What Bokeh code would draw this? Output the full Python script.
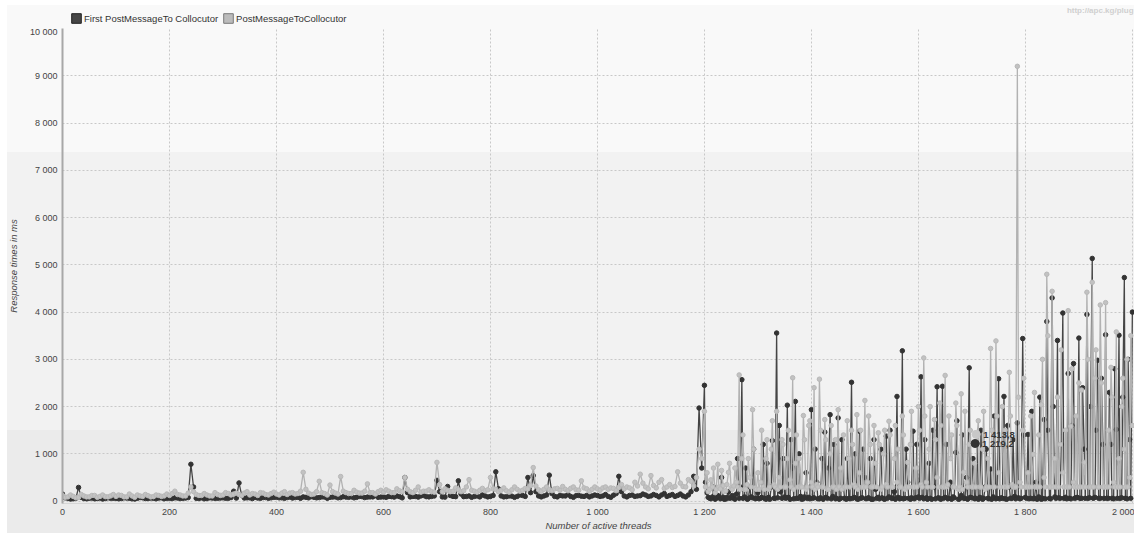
from bokeh.plotting import figure
from bokeh.layouts import column
from bokeh.models import (Range1d, Legend, LegendItem, CustomJSTickFormatter,
                          SingleIntervalTicker, Label)
from bokeh.core.properties import value
from bokeh.embed import file_html
from bokeh.resources import INLINE

# ---------------- data ----------------
threads = [
    0, 10, 20, 30, 40, 50, 60, 70, 80, 90,
    100, 110, 120, 130, 140, 150, 160, 170, 180, 190,
    200, 210, 220, 230, 240, 250, 260, 270, 280, 290,
    300, 310, 320, 330, 340, 350, 360, 370, 380, 390,
    400, 410, 420, 430, 440, 450, 460, 470, 480, 490,
    500, 510, 520, 530, 540, 550, 560, 570, 580, 590,
    600, 610, 620, 630, 640, 650, 660, 670, 680, 690,
    700, 710, 720, 730, 740, 750, 760, 770, 780, 790,
    800, 810, 820, 830, 840, 850, 860, 870, 880, 890,
    900, 910, 920, 930, 940, 950, 960, 970, 980, 990,
    1000, 1010, 1020, 1030, 1040, 1050, 1060, 1070, 1080, 1090,
    1100, 1110, 1120, 1130, 1140, 1150, 1160, 1170, 1180, 1190,
    1200,
    1205, 1210, 1215, 1220, 1225, 1230, 1235, 1240, 1245, 1250,
    1255, 1260, 1265, 1270, 1275, 1280, 1285, 1290, 1295, 1300,
    1305, 1310, 1315, 1320, 1325, 1330, 1335, 1340, 1345, 1350,
    1355, 1360, 1365, 1370, 1375, 1380, 1385, 1390, 1395, 1400,
    1405, 1410, 1415, 1420, 1425, 1430, 1435, 1440, 1445, 1450,
    1455, 1460, 1465, 1470, 1475, 1480, 1485, 1490, 1495, 1500,
    1505, 1510, 1515, 1520, 1525, 1530, 1535, 1540, 1545, 1550,
    1555, 1560, 1565, 1570, 1575, 1580, 1585, 1590, 1595, 1600,
    1605, 1610, 1615, 1620, 1625, 1630, 1635, 1640, 1645, 1650,
    1655, 1660, 1665, 1670, 1675, 1680, 1685, 1690, 1695, 1700,
    1705, 1710, 1715, 1720, 1725, 1730, 1735, 1740, 1745, 1750,
    1755, 1760, 1765, 1770, 1775, 1780, 1785, 1790, 1795, 1800,
    1805, 1810, 1815, 1820, 1825, 1830, 1835, 1840, 1845, 1850,
    1855, 1860, 1865, 1870, 1875, 1880, 1885, 1890, 1895, 1900,
    1905, 1910, 1915, 1920, 1925, 1930, 1935, 1940, 1945, 1950,
    1955, 1960, 1965, 1970, 1975, 1980, 1985, 1990, 1995, 2000,
]

first_post_ms = [
    150, 60, 50, 290, 55, 60, 50, 65, 55, 60,
    60, 55, 65, 50, 60, 70, 55, 60, 65, 50,
    60, 70, 55, 65, 780, 60, 70, 55, 65, 60,
    70, 60, 210, 385, 65, 70, 80, 60, 75, 70,
    80, 70, 75, 65, 80, 90, 70, 80, 75, 85,
    80, 90, 75, 85, 90, 80, 95, 85, 90, 80,
    90, 100, 85, 95, 500, 90, 100, 110, 95, 100,
    440, 90, 310, 100, 430, 95, 110, 100, 90, 110,
    100, 620, 110, 95, 105, 100, 120, 500, 540, 110,
    110, 550, 100, 120, 110, 100, 115, 105, 120, 110,
    120, 110, 100, 125, 525, 110, 120, 100, 115, 130,
    110, 120, 130, 100, 140, 120, 110, 130, 525, 1970,
    2450,
    180, 60, 90, 40, 120, 50, 80, 45, 200, 70,
    60, 150, 60, 2570, 90, 40, 300, 70, 50, 180,
    60, 1200, 40, 80, 300, 60, 3557, 1600, 60, 90,
    2030, 40, 700, 2110, 60, 100, 50, 600, 80, 1935,
    70, 400, 50, 900, 1460, 60, 1830, 100, 50, 1760,
    60, 300, 40, 60, 2515, 80, 50, 1480, 70, 500,
    60, 900, 40, 250, 80, 1100, 50, 1375, 90, 60,
    200, 2215, 50, 3180, 60, 400, 40, 1480, 70, 90,
    2630, 50, 70, 800, 40, 300, 2420, 60, 2430, 80,
    50, 400, 90, 1030, 40, 120, 60, 500, 2820, 70,
    50, 1219, 80, 40, 300, 60, 680, 90, 50, 2590,
    70, 2215, 40, 300, 60, 100, 1655, 50, 3440, 80,
    1410, 60, 50, 400, 90, 40, 1725, 3800, 60, 4300,
    90, 3400, 60, 3980, 80, 2700, 50, 2910, 70, 3450,
    60, 1100, 3950, 70, 5135, 80, 2980, 60, 1200, 3520,
    60, 1200, 50, 1515, 3510, 70, 4730, 50, 1300, 4000,
]

post_ms = [
    120, 90, 100, 80, 110, 90, 120, 100, 95, 110,
    100, 120, 90, 110, 130, 100, 115, 95, 120, 110,
    120, 210, 130, 110, 300, 140, 120, 130, 110, 140,
    130, 160, 150, 140, 170, 130, 150, 180, 140, 160,
    150, 170, 140, 180, 160, 610, 170, 150, 420, 160,
    340, 170, 520, 180, 160, 190, 170, 365, 180, 200,
    190, 210, 180, 220, 500, 200, 230, 190, 210, 200,
    820, 200, 230, 210, 240, 220, 455, 210, 230, 220,
    500, 250, 230, 220, 240, 250, 230, 260, 710, 240,
    250, 240, 260, 230, 250, 270, 240, 430, 260, 250,
    260, 280, 250, 270, 290, 260, 280, 400, 570, 300,
    540, 280, 455, 300, 290, 620, 310, 455, 320, 1100,
    1900,
    600, 250, 300, 180, 780, 260, 330, 220, 610, 280,
    320, 400, 2670, 900, 250, 350, 500, 1935, 280, 600,
    400, 300, 900, 250, 1100, 350, 1900, 500, 1300, 300,
    900, 450, 2610, 800, 300, 300, 1810, 250, 1600, 400,
    2400, 350, 2580, 300, 1725, 250, 1000, 300, 1300, 1935,
    700, 1400, 300, 900, 1500, 350, 1830, 600, 300, 2130,
    400, 1200, 300, 800, 1445, 250, 1000, 350, 1690, 300,
    900, 400, 300, 1800, 250, 820, 1200, 300, 700, 2000,
    350, 3030, 400, 1100, 300, 1725, 500, 2075, 300, 2660,
    350, 900, 300, 2075, 250, 2270, 610, 400, 1200, 300,
    800, 1414, 300, 1100, 250, 900, 3230, 300, 3390, 600,
    1200, 300, 300, 2725, 350, 300, 9200, 400, 1500, 300,
    600, 1800, 990, 300, 1400, 2040, 500, 4800, 300, 4440,
    900, 2200, 1200, 600, 1500, 4030, 1585, 400, 1800, 2500,
    2350, 820, 4420, 300, 4630, 2600, 300, 4150, 300, 4200,
    1500, 2830, 400, 3580, 900, 2000, 1100, 3000, 500, 1600,
]

# second, in-between set of samples (the picture is much denser than one point per 5-10 threads)
threads_b = [
    5, 15, 25, 35, 45, 55, 65, 75, 85, 95,
    105, 115, 125, 135, 145, 155, 165, 175, 185, 195,
    205, 215, 225, 235, 245, 255, 265, 275, 285, 295,
    305, 315, 325, 335, 345, 355, 365, 375, 385, 395,
    405, 415, 425, 435, 445, 455, 465, 475, 485, 495,
    505, 515, 525, 535, 545, 555, 565, 575, 585, 595,
    605, 615, 625, 635, 645, 655, 665, 675, 685, 695,
    705, 715, 725, 735, 745, 755, 765, 775, 785, 795,
    805, 815, 825, 835, 845, 855, 865, 875, 885, 895,
    905, 915, 925, 935, 945, 955, 965, 975, 985, 995,
    1005, 1015, 1025, 1035, 1045, 1055, 1065, 1075, 1085, 1095,
    1105, 1115, 1125, 1135, 1145, 1155, 1165, 1175, 1185, 1195,
    1202, 1207, 1212, 1217, 1222, 1227, 1232, 1237, 1242, 1247,
    1252, 1257, 1262, 1267, 1272, 1277, 1282, 1287, 1292, 1297,
    1302, 1307, 1312, 1317, 1322, 1327, 1332, 1337, 1342, 1347,
    1352, 1357, 1362, 1367, 1372, 1377, 1382, 1387, 1392, 1397,
    1402, 1407, 1412, 1417, 1422, 1427, 1432, 1437, 1442, 1447,
    1452, 1457, 1462, 1467, 1472, 1477, 1482, 1487, 1492, 1497,
    1502, 1507, 1512, 1517, 1522, 1527, 1532, 1537, 1542, 1547,
    1552, 1557, 1562, 1567, 1572, 1577, 1582, 1587, 1592, 1597,
    1602, 1607, 1612, 1617, 1622, 1627, 1632, 1637, 1642, 1647,
    1652, 1657, 1662, 1667, 1672, 1677, 1682, 1687, 1692, 1697,
    1702, 1707, 1712, 1717, 1722, 1727, 1732, 1737, 1742, 1747,
    1752, 1757, 1762, 1767, 1772, 1777, 1782, 1787, 1792, 1797,
    1802, 1807, 1812, 1817, 1822, 1827, 1832, 1837, 1842, 1847,
    1852, 1857, 1862, 1867, 1872, 1877, 1882, 1887, 1892, 1897,
    1902, 1907, 1912, 1917, 1922, 1927, 1932, 1937, 1942, 1947,
    1952, 1957, 1962, 1967, 1972, 1977, 1982, 1987, 1992, 1997,
]

first_post_ms_b = [
    70, 45, 60, 80, 50, 65, 55, 45, 70, 60,
    50, 70, 60, 45, 75, 55, 65, 50, 70, 60,
    55, 65, 60, 75, 300, 55, 50, 70, 60, 65,
    60, 75, 65, 120, 70, 55, 65, 75, 60, 80,
    70, 60, 85, 75, 60, 80, 95, 70, 90, 60,
    85, 70, 95, 80, 70, 100, 75, 90, 120, 85,
    80, 95, 110, 70, 180, 100, 85, 120, 90, 110,
    200, 85, 120, 95, 150, 100, 80, 110, 130, 90,
    120, 260, 90, 110, 80, 130, 100, 180, 200, 90,
    130, 160, 90, 110, 140, 80, 120, 100, 90, 130,
    100, 140, 80, 160, 200, 90, 130, 110, 150, 100,
    140, 90, 160, 120, 100, 150, 90, 200, 250, 700,
    400, 80, 50, 300, 60, 90, 500, 40, 80, 60,
    120, 40, 900, 300, 60, 700, 50, 90, 1100, 60,
    50, 80, 60, 800, 40, 1280, 60, 70, 200, 900,
    60, 80, 1300, 50, 60, 1000, 40, 90, 60, 50,
    60, 1100, 50, 70, 40, 80, 700, 50, 1200, 60,
    40, 1300, 60, 900, 50, 60, 1000, 40, 60, 1100,
    50, 70, 40, 1300, 60, 50, 70, 40, 60, 1500,
    60, 40, 80, 60, 50, 1100, 60, 70, 50, 1200,
    60, 80, 1300, 40, 60, 1500, 50, 70, 40, 60,
    1200, 60, 40, 70, 1700, 50, 1400, 60, 40, 80,
    900, 60, 40, 1500, 60, 1100, 50, 40, 1800, 60,
    50, 60, 50, 1600, 60, 1300, 50, 70, 60, 1400,
    60, 50, 1900, 60, 40, 2200, 60, 50, 1500, 50,
    2000, 60, 70, 1200, 60, 50, 60, 1600, 60, 80,
    60, 2400, 60, 60, 2000, 60, 1500, 60, 2600, 60,
    60, 2300, 60, 2800, 60, 60, 2200, 60, 3000, 60,
]

post_ms_b = [
    80, 130, 70, 140, 90, 120, 80, 130, 90, 140,
    130, 90, 150, 80, 110, 140, 90, 130, 100, 150,
    160, 140, 110, 170, 200, 120, 160, 110, 180, 120,
    180, 130, 170, 120, 200, 160, 120, 170, 130, 190,
    130, 200, 170, 150, 210, 250, 140, 200, 180, 130,
    200, 150, 210, 160, 230, 170, 210, 180, 150, 230,
    240, 180, 260, 200, 250, 180, 300, 210, 240, 190,
    350, 260, 200, 280, 200, 300, 230, 190, 270, 240,
    260, 200, 280, 190, 300, 210, 270, 330, 320, 210,
    300, 220, 270, 310, 220, 300, 230, 280, 210, 300,
    230, 300, 280, 220, 350, 300, 240, 320, 380, 260,
    330, 400, 270, 350, 310, 380, 300, 420, 500, 900,
    300, 200, 450, 700, 250, 300, 650, 200, 350, 800,
    250, 700, 300, 250, 1400, 250, 900, 300, 1100, 250,
    250, 1500, 250, 1300, 300, 1700, 300, 250, 300, 1200,
    300, 1500, 300, 250, 1400, 900, 300, 1300, 300, 1700,
    300, 250, 300, 1500, 300, 1300, 250, 1600, 300, 250,
    300, 250, 300, 1700, 300, 1200, 300, 250, 1500, 300,
    300, 1800, 300, 1600, 300, 1200, 300, 1500, 300, 1400,
    300, 1600, 1100, 300, 1400, 300, 300, 1900, 300, 300,
    1500, 300, 1800, 300, 2000, 300, 1300, 300, 1600, 300,
    300, 1800, 1400, 300, 1600, 300, 250, 1900, 300, 1500,
    300, 300, 1700, 300, 1900, 300, 300, 1500, 300, 1800,
    300, 2000, 1500, 300, 1800, 300, 300, 2200, 300, 2600,
    300, 300, 300, 2300, 300, 300, 3000, 300, 3500, 300,
    300, 300, 300, 3200, 300, 300, 300, 2800, 300, 300,
    300, 300, 300, 3000, 300, 300, 3200, 300, 2500, 300,
    300, 300, 2200, 300, 300, 300, 2600, 300, 300, 3500,
]

series_names = ["First PostMessageTo Collocutor", "PostMessageToCollocutor"]
hover_threads = [1708, 1706]
hover_values = [1413.8, 1219.2]
hover_texts = ["1 413,8", "1 219,2"]
watermark = "http://apc.kg/plug"
y_ticks_step = 1000
x_ticks_step = 200

# merge both sample sets in thread order
rows = sorted(zip(threads + threads_b, first_post_ms + first_post_ms_b, post_ms + post_ms_b))
all_threads = [r[0] for r in rows]
all_first = [r[1] for r in rows]
all_post = [r[2] for r in rows]

FONT = "Liberation Sans"
W = 1134
STRIP_H = 26
MAIN_H = 507

# ---------------- legend strip ----------------
lf = figure(width=W, height=STRIP_H, x_range=Range1d(0, W), y_range=Range1d(0, STRIP_H),
            output_backend="svg", toolbar_location=None, min_border=0,
            x_axis_type=None, y_axis_type=None)
lf.grid.visible = False
lf.outline_line_color = None
lf.border_fill_alpha = 0
lf.background_fill_alpha = 0
sw_dark = lf.rect(x=[-100], y=[-100], width=1, height=1, fill_color="#464646", line_color="#222222")
sw_light = lf.rect(x=[-100], y=[-100], width=1, height=1, fill_color="#bcbcbc", line_color="#7a7a7a")
legend = Legend(items=[LegendItem(label=series_names[0], renderers=[sw_dark]),
                       LegendItem(label=series_names[1], renderers=[sw_light])],
                orientation="horizontal", location=(8, 2),
                glyph_width=12, glyph_height=12, label_height=12, label_standoff=2,
                spacing=4, padding=0, margin=0, border_line_color=None,
                background_fill_alpha=0, label_text_font=FONT,
                label_text_font_size="9.5px", label_text_color="#333333")
lf.add_layout(legend)
lf.add_layout(Label(x=W - 1, y=16, text=watermark, text_align="right", text_baseline="middle",
                    text_font=FONT, text_font_size="8px", text_font_style="bold",
                    text_color="#d0d0d0"))

# ---------------- main chart ----------------
p = figure(width=W, height=MAIN_H, output_backend="svg", toolbar_location=None,
           x_range=Range1d(0, 2004), y_range=Range1d(-50, 10000),
           min_border_left=62, min_border_right=0, min_border_top=2,
           min_border_bottom=0)
p.border_fill_alpha = 0
p.background_fill_alpha = 0
p.outline_line_color = None

fmt = CustomJSTickFormatter(code=r"return Math.round(tick).toString().replace(/\B(?=(\d{3})+(?!\d))/g, ' ');")
p.xaxis.ticker = SingleIntervalTicker(interval=x_ticks_step)
p.yaxis.ticker = SingleIntervalTicker(interval=y_ticks_step)
p.xaxis.formatter = fmt
p.yaxis.formatter = fmt
for ax in (p.xaxis[0], p.yaxis[0]):
    ax.major_label_text_font = FONT
    ax.major_label_text_font_size = "9px"
    ax.major_label_text_color = "#444444"
    ax.axis_label_text_font = FONT
    ax.axis_label_text_font_size = "9.5px"
    ax.axis_label_text_font_style = "italic"
    ax.axis_label_text_color = "#444444"
    ax.major_tick_line_color = None
    ax.minor_tick_line_color = None
    ax.major_tick_out = 0
    ax.major_tick_in = 0
    ax.minor_tick_out = 0
    ax.minor_tick_in = 0
p.xaxis.axis_label = "Number of active threads"
p.yaxis.axis_label = "Response times in ms"
p.xaxis.major_label_standoff = 3
p.xaxis.axis_label_standoff = 0
p.yaxis.major_label_standoff = 5
p.yaxis.axis_label_standoff = 8
p.yaxis.axis_line_color = "#a8a8a8"
p.yaxis.axis_line_width = 2
p.xaxis.axis_line_color = "#d6d6d6"

p.xgrid.grid_line_color = "#c8c8c8"
p.ygrid.grid_line_color = "#c8c8c8"
p.xgrid.grid_line_dash = "2 2"
p.ygrid.grid_line_dash = "2 2"

p.line(all_threads, all_first, line_color="#454545", line_width=1.3)
p.scatter(all_threads, all_first, size=4.5, fill_color="#333333", line_color="#333333")
p.line(all_threads, all_post, line_color="#b2b2b2", line_width=1.3)
p.scatter(all_threads, all_post, size=4.5, fill_color="#c2c2c2", line_color="#b8b8b8")

p.scatter(hover_threads[:1], hover_values[:1], size=8, fill_color="#c8c8c8", line_color="#c8c8c8")
p.scatter(hover_threads[1:], hover_values[1:], size=8, fill_color="#333333", line_color="#333333")
p.text(hover_threads, hover_values, text=hover_texts, x_offset=7,
       text_baseline="middle", text_align="left", text_font=value(FONT),
       text_font_size="9.5px", text_font_style="bold", text_color="#333333")

bg = ("linear-gradient(to right, #ffffff 0px, #ffffff 7px, rgba(255,255,255,0) 7px), "
      "linear-gradient(to bottom, #ffffff 0px, #ffffff 5px, rgba(255,255,255,0) 5px), "
      "linear-gradient(to bottom, #f9f9f9 0px, #f9f9f9 152px, #f2f2f2 152px, "
      "#f2f2f2 430px, #ebebeb 430px, #ebebeb 100%)")
page = column(lf, p, spacing=0, styles={"background": bg})

open("out.html", "w").write(file_html(page, INLINE))
